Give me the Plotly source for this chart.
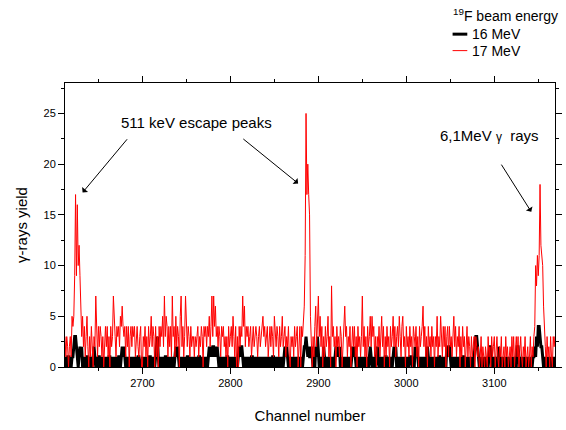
import plotly.graph_objects as go

FONT = "Liberation Sans, Arial, sans-serif"

# first channel of the spectrum, one count per channel after that
first_channel = 2611

# 17 MeV beam (red), in 80-channel pieces
red_2611 = [3, 3, 1, 3, 2, 0, 2, 3, 1, 5,
            4, 5, 9, 17, 9, 16, 10, 12, 9, 5,
            3, 5, 2, 4, 1, 3, 5, 2, 0, 3,
            1, 4, 2, 0, 3, 2, 7, 3, 1, 4,
            2, 4, 3, 1, 3, 0, 3, 4, 2, 4,
            1, 3, 0, 4, 2, 3, 7, 4, 3, 1,
            4, 3, 4, 2, 5, 4, 6, 4, 3, 4,
            1, 4, 2, 4, 0, 3, 4, 2, 4, 3]
red_2691 = [4, 1, 3, 4, 2, 1, 3, 4, 0, 0,
            3, 2, 4, 1, 3, 0, 4, 2, 3, 5,
            2, 4, 3, 0, 4, 1, 3, 0, 4, 2,
            4, 3, 5, 2, 7, 3, 5, 4, 1, 4,
            2, 4, 1, 7, 3, 4, 1, 5, 2, 4,
            3, 0, 5, 7, 2, 4, 1, 3, 7, 4,
            2, 4, 3, 1, 4, 2, 3, 3, 1, 3,
            2, 3, 4, 1, 3, 2, 4, 3, 0, 4]
red_2771 = [3, 4, 2, 4, 3, 5, 2, 4, 7, 3,
            7, 4, 6, 3, 4, 2, 4, 3, 1, 4,
            3, 4, 2, 3, 1, 3, 0, 4, 2, 3,
            4, 2, 5, 3, 1, 4, 0, 3, 0, 4,
            2, 4, 3, 7, 4, 6, 2, 4, 3, 4,
            2, 3, 4, 1, 3, 4, 2, 3, 4, 3,
            1, 3, 4, 2, 3, 4, 5, 3, 4, 2,
            3, 4, 1, 3, 4, 2, 4, 3, 1, 5]
red_2851 = [3, 2, 4, 3, 1, 4, 2, 3, 5, 2,
            3, 4, 1, 3, 2, 4, 1, 0, 3, 2,
            3, 1, 4, 2, 3, 4, 0, 3, 4, 0,
            4, 3, 5, 6, 11, 25, 17, 20, 17, 15,
            5, 2, 0, 3, 1, 4, 6, 2, 4, 7,
            3, 5, 2, 4, 0, 3, 1, 4, 2, 3,
            5, 1, 3, 0, 8, 3, 4, 2, 3, 0,
            4, 2, 3, 1, 4, 3, 0, 2, 4, 6]
red_2931 = [3, 4, 1, 3, 2, 4, 0, 3, 4, 2,
            4, 1, 3, 0, 4, 2, 3, 1, 3, 7,
            2, 4, 1, 3, 0, 4, 2, 3, 5, 2,
            5, 3, 4, 1, 3, 0, 3, 2, 4, 1,
            3, 5, 2, 4, 0, 3, 1, 4, 2, 3,
            0, 4, 2, 3, 5, 2, 4, 1, 3, 4,
            2, 5, 3, 1, 4, 5, 2, 3, 0, 4,
            2, 3, 1, 4, 2, 3, 0, 4, 3, 2]
red_3011 = [4, 1, 3, 0, 4, 2, 3, 4, 6, 2,
            4, 1, 3, 0, 4, 2, 3, 1, 4, 2,
            3, 0, 3, 2, 5, 1, 3, 2, 5, 3,
            1, 4, 2, 4, 0, 3, 4, 1, 4, 2,
            3, 1, 3, 5, 2, 4, 1, 3, 2, 4,
            0, 3, 1, 4, 2, 3, 0, 3, 4, 1,
            3, 2, 0, 3, 1, 2, 3, 0, 3, 2,
            1, 2, 0, 1, 3, 0, 2, 1, 0, 2]
red_3091 = [1, 0, 3, 1, 2, 0, 3, 1, 2, 3,
            0, 2, 3, 1, 0, 2, 1, 3, 0, 1,
            2, 0, 3, 1, 2, 0, 1, 2, 0, 3,
            1, 3, 0, 2, 3, 1, 3, 0, 2, 3,
            1, 0, 2, 1, 3, 0, 1, 2, 0, 1,
            3, 0, 2, 1, 3, 4, 10, 8, 11, 9,
            11, 18, 12, 11, 10, 6, 3, 2, 0, 3,
            1, 2, 0, 3, 1, 0, 3, 2, 3, 2]

# 16 MeV beam (black)
black_2611 = [1, 0, 1, 0, 1, 1, 0, 1, 0, 1,
              1, 2, 3, 3, 2, 1, 0, 1, 2, 1,
              2, 0, 1, 0, 1, 0, 1, 1, 0, 1,
              0, 1, 0, 1, 2, 1, 0, 1, 0, 1,
              1, 0, 1, 0, 0, 1, 0, 1, 0, 1,
              0, 1, 1, 0, 1, 0, 1, 0, 1, 0,
              1, 0, 1, 1, 0, 1, 2, 1, 2, 1,
              0, 1, 0, 1, 0, 1, 0, 0, 1, 0]
black_2691 = [1, 0, 1, 0, 1, 1, 0, 0, 0, 1,
              0, 1, 0, 1, 0, 1, 0, 1, 1, 0,
              1, 0, 1, 0, 1, 2, 3, 1, 0, 1,
              0, 1, 0, 1, 0, 1, 1, 0, 1, 0,
              1, 0, 1, 0, 1, 0, 1, 2, 1, 2,
              1, 0, 1, 0, 1, 0, 1, 0, 1, 0,
              1, 1, 0, 1, 0, 1, 0, 1, 0, 1,
              0, 1, 0, 1, 1, 0, 1, 0, 1, 0]
black_2771 = [1, 0, 1, 0, 1, 2, 1, 2, 1, 2,
              2, 1, 2, 1, 2, 1, 0, 1, 0, 1,
              0, 1, 0, 1, 0, 1, 1, 0, 1, 0,
              1, 0, 1, 0, 1, 0, 1, 0, 1, 2,
              1, 2, 2, 1, 0, 1, 0, 1, 0, 1,
              0, 1, 0, 1, 1, 0, 1, 0, 1, 0,
              1, 0, 1, 0, 1, 0, 0, 1, 0, 1,
              0, 1, 0, 1, 0, 1, 0, 1, 1, 0]
black_2851 = [1, 0, 1, 0, 1, 0, 1, 0, 1, 0,
              1, 2, 1, 2, 1, 0, 1, 0, 1, 0,
              1, 0, 1, 0, 1, 0, 1, 0, 1, 0,
              1, 0, 1, 2, 2, 3, 2, 1, 2, 1,
              1, 2, 1, 0, 1, 0, 2, 1, 3, 1,
              0, 1, 0, 1, 0, 2, 1, 0, 1, 0,
              1, 0, 1, 0, 1, 0, 1, 0, 1, 2,
              1, 2, 1, 2, 0, 1, 0, 1, 0, 1]
black_2931 = [0, 1, 0, 1, 0, 1, 0, 1, 2, 1,
              2, 1, 0, 1, 0, 1, 0, 1, 0, 1,
              0, 1, 0, 1, 0, 1, 0, 1, 2, 1,
              0, 1, 0, 1, 0, 1, 2, 1, 0, 1,
              0, 1, 0, 1, 0, 1, 1, 0, 1, 0,
              1, 0, 1, 0, 1, 2, 1, 2, 0, 1,
              0, 1, 0, 1, 0, 1, 0, 1, 0, 1,
              0, 1, 0, 1, 1, 1, 0, 1, 0, 2]
black_3011 = [1, 2, 1, 0, 1, 0, 1, 0, 1, 0,
              1, 0, 1, 2, 1, 0, 1, 0, 1, 0,
              1, 0, 1, 0, 1, 0, 1, 1, 0, 1,
              0, 1, 0, 1, 0, 2, 1, 2, 2, 1,
              0, 1, 0, 1, 0, 1, 0, 1, 0, 1,
              0, 1, 0, 1, 1, 0, 1, 0, 1, 0,
              1, 0, 1, 0, 1, 0, 1, 2, 3, 3,
              2, 1, 0, 1, 0, 1, 0, 1, 0, 1]
black_3091 = [0, 1, 0, 1, 2, 2, 1, 0, 1, 0,
              1, 0, 1, 0, 2, 1, 0, 1, 0, 1,
              0, 1, 0, 1, 0, 1, 0, 1, 0, 1,
              0, 1, 0, 1, 0, 2, 2, 1, 0, 1,
              0, 1, 0, 1, 0, 1, 0, 1, 0, 1,
              0, 1, 0, 1, 1, 2, 1, 3, 2, 4,
              4, 3, 2, 2, 1, 0, 1, 0, 1, 0,
              1, 0, 1, 0, 1, 0, 1, 0, 1, 0]

red_17mev = red_2611 + red_2691 + red_2771 + red_2851 + red_2931 + red_3011 + red_3091
black_16mev = (black_2611 + black_2691 + black_2771 + black_2851
               + black_2931 + black_3011 + black_3091)
channels = list(range(first_channel, first_channel + len(red_17mev)))

fig = go.Figure()
fig.add_trace(go.Scatter(x=channels, y=black_16mev, mode="lines", name="16 MeV",
                         line=dict(color="black", width=3)))
fig.add_trace(go.Scatter(x=channels, y=red_17mev, mode="lines", name="17 MeV",
                         line=dict(color="#ff0000", width=1)))

axis_style = dict(
    showline=True, linecolor="black", linewidth=1, mirror="ticks",
    showgrid=False, zeroline=False,
    ticks="outside", ticklen=6, tickwidth=1, tickcolor="black",
    tickfont=dict(family=FONT, size=11, color="black"),
)
fig.update_xaxes(range=[2612, 3169], dtick=100,
                 minor=dict(dtick=50, ticks="outside", ticklen=3, tickcolor="black"),
                 title=dict(text="Channel number", standoff=22,
                            font=dict(family=FONT, size=15, color="black")),
                 **axis_style)
fig.update_yaxes(range=[0, 28], dtick=5,
                 minor=dict(dtick=2.5, ticks="outside", ticklen=3, tickcolor="black"),
                 title=dict(text="γ-rays yield", standoff=12,
                            font=dict(family=FONT, size=15, color="black")),
                 **axis_style)

# peak labels with arrows
arrow = dict(showarrow=True, arrowhead=1, arrowsize=1.3, arrowwidth=1,
             arrowcolor="black", axref="x", ayref="y", text="")
fig.add_annotation(x=2632, y=17.2, ax=2684, ay=22.6, **arrow)
fig.add_annotation(x=2877, y=18.1, ax=2813, ay=22.6, **arrow)
fig.add_annotation(x=3142, y=15.3, ax=3107, ay=20.1, **arrow)
fig.add_annotation(x=2761, y=24.1, text="511 keV escape peaks", showarrow=False,
                   font=dict(family=FONT, size=15, color="black"))
fig.add_annotation(x=3095, y=22.8, showarrow=False,
                   text="6,1MeV <span style='font-size:12px'>γ</span>  rays",
                   font=dict(family=FONT, size=15, color="black"))

# legend drawn by hand (short sample lines)
fig.add_shape(type="line", xref="paper", yref="paper", x0=0.791, x1=0.821, y0=1.172, y1=1.172,
              line=dict(color="black", width=3))
fig.add_shape(type="line", xref="paper", yref="paper", x0=0.791, x1=0.821, y0=1.114, y1=1.114,
              line=dict(color="#ff0000", width=1))
legend_font = dict(family=FONT, size=14, color="black")
fig.add_annotation(xref="paper", yref="paper", x=0.787, y=1.241, xanchor="left", yanchor="middle",
                   text="<sup>19</sup>F beam energy", showarrow=False, font=legend_font)
fig.add_annotation(xref="paper", yref="paper", x=0.826, y=1.172, xanchor="left", yanchor="middle",
                   text="16 MeV", showarrow=False, font=legend_font)
fig.add_annotation(xref="paper", yref="paper", x=0.826, y=1.114, xanchor="left", yanchor="middle",
                   text="17 MeV", showarrow=False, font=legend_font)

fig.update_layout(
    width=566, height=430,
    paper_bgcolor="white", plot_bgcolor="white",
    showlegend=False,
    margin=dict(l=65, r=4, t=83, b=63),
    font=dict(family=FONT, color="black"),
)

# page margin off so the 566x430 figure fills the window exactly
fig.write_html("out.html", config={"displayModeBar": False},
               post_script="document.body.style.margin = '0';")
